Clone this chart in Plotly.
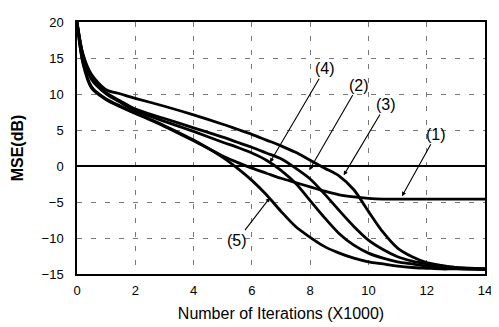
import plotly.graph_objects as go

x_pts = [0, 0.2, 0.5, 1, 1.5, 2, 3, 4, 5, 5.5, 6, 6.5, 7, 7.5, 8, 8.5, 9, 9.5, 10, 10.5, 11, 11.5, 12, 12.5, 13, 14]

mse_1 = [20, 14.3, 10.8, 9.2, 8.2, 7.3, 5.5, 3.5, 1.4, 0.5, -0.3, -1.0, -1.7, -2.3, -2.9, -3.5, -4.0, -4.3, -4.5, -4.6, -4.6, -4.6, -4.6, -4.6, -4.6, -4.6]
mse_2 = [20, 15.5, 12.3, 10.2, 9.0, 7.9, 6.6, 5.3, 4.0, 3.3, 2.6, 1.8, 1.0, -0.3, -1.8, -3.9, -6.2, -8.4, -10.3, -11.6, -12.6, -13.2, -13.6, -13.9, -14.1, -14.3]
mse_3 = [20, 15.6, 12.7, 10.6, 10.0, 9.4, 8.3, 7.1, 5.8, 5.1, 4.4, 3.6, 2.8, 1.9, 0.8, -0.3, -1.4, -3.3, -6.3, -9.2, -11.4, -12.6, -13.4, -13.8, -14.1, -14.3]
mse_4 = [20, 15.3, 12.0, 10.0, 8.8, 7.7, 6.2, 4.8, 3.3, 2.6, 1.8, 0.8, -0.6, -2.4, -4.8, -7.2, -9.4, -11.0, -12.1, -12.8, -13.3, -13.6, -13.9, -14.1, -14.2, -14.3]
mse_5 = [20, 14.5, 11.0, 9.3, 8.3, 7.4, 5.6, 3.6, 1.2, -0.3, -2.0, -4.0, -6.3, -8.4, -9.9, -11.2, -12.1, -12.8, -13.3, -13.6, -13.9, -14.1, -14.2, -14.3, -14.3, -14.4]

labels = ["(1)", "(2)", "(3)", "(4)", "(5)"]
label_x = [12.33, 9.66, 10.6, 8.51, 5.5]
label_y = [4.4, 11.25, 8.55, 13.5, -10.3]
tip_x = [11.15, 7.97, 9.15, 6.62, 6.62]
tip_y = [-4.2, -0.6, -1.3, 0.5, -4.4]

x_ticks = [0, 2, 4, 6, 8, 10, 12, 14]
y_ticks = [-15, -10, -5, 0, 5, 10, 15, 20]

FONT = "Liberation Sans, Arial"

fig = go.Figure()
for ys in [mse_1, mse_2, mse_3, mse_4, mse_5]:
    fig.add_trace(go.Scatter(x=x_pts, y=ys, mode="lines",
                             line=dict(color="black", width=2.8, shape="spline", smoothing=0.8),
                             showlegend=False, hoverinfo="skip"))

for t, lx, ly, tx, ty in zip(labels, label_x, label_y, tip_x, tip_y):
    fig.add_annotation(x=tx, y=ty, ax=lx, ay=ly, xref="x", yref="y", axref="x", ayref="y",
                       text=t, showarrow=True, arrowhead=2, arrowsize=0.8, arrowwidth=1.1,
                       arrowcolor="black", font=dict(family=FONT, size=16, color="black"))

fig.update_layout(
    width=491, height=319,
    margin=dict(l=69, r=8, t=7, b=52),
    paper_bgcolor="white", plot_bgcolor="white",
    font=dict(family=FONT, color="black"),
    xaxis=dict(range=[0, 14], tickvals=x_ticks, showgrid=True, gridcolor="#777", griddash="5px,9px",
               gridwidth=1, showline=True, linecolor="black", linewidth=1.5, mirror=True,
               zeroline=False, ticks="outside", ticklen=4, tickcolor="rgba(0,0,0,0)",
               tickfont=dict(size=13, family=FONT),
               title=dict(text="Number of Iterations (X1000)", font=dict(size=16), standoff=10)),
    yaxis=dict(range=[-15, 20], tickvals=y_ticks, showgrid=True, gridcolor="#777", griddash="5px,9px",
               gridwidth=1, showline=True, linecolor="black", linewidth=1.5, mirror=True,
               zeroline=True, zerolinecolor="black", zerolinewidth=1.5,
               ticks="outside", ticklen=9, tickcolor="rgba(0,0,0,0)",
               tickfont=dict(size=13, family=FONT),
               title=dict(text="<b>MSE(dB)</b>", font=dict(size=16), standoff=14)),
)
fig.update_xaxes(tickprefix="<b>", ticksuffix="</b>")
fig.update_yaxes(tickprefix="<b>", ticksuffix="</b>")

fig.write_html("out.html")
